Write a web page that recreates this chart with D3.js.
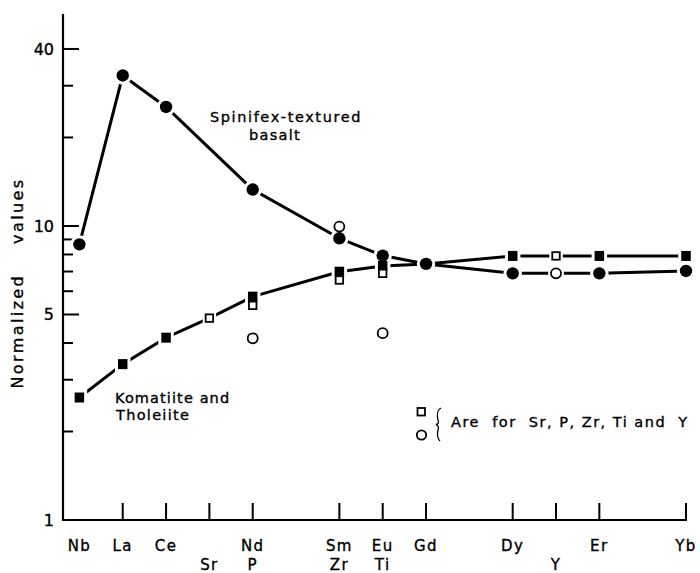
<!DOCTYPE html>
<html>
<head>
<meta charset="utf-8">
<script src="https://cdn.jsdelivr.net/npm/d3@7/dist/d3.min.js"></script>
<style>
  html, body { margin: 0; padding: 0; background: #fff; }
  svg text { font-family: "DejaVu Sans", sans-serif; fill: #000; stroke: #000; stroke-width: 0.35px; white-space: pre; }
</style>
</head>
<body>
<svg id="chart" width="700" height="573"></svg>
<script>
// Element slots along the x axis (unlabelled slots keep the REE spacing)
const slots = ["Nb","La","Ce","Sr","Nd","Pm","Sm","Eu","Gd","Tb","Dy","Y","Er","Tm","Yb"];
const topRowLabels    = ["Nb","La","Ce","","Nd","","Sm","Eu","Gd","","Dy","","Er","","Yb"];
const bottomRowLabels = ["","","","Sr","P","","Zr","Ti","","","","Y","","",""];
const tickSlots = ["La","Ce","Sr","Nd","Sm","Eu","Gd","Dy","Y","Er","Yb"];

// y axis ticks
const majorTicks = [1, 5, 10, 40];
const minorTicks = [2, 3, 4, 6, 7, 8, 9, 20, 30];

// Spinifex-textured basalt (filled circles; open circle at Y)
const spinifexKeys   = ["Nb","La","Ce","Nd","Sm","Eu","Gd","Dy","Y","Er","Yb"];
const spinifexValues = [8.66, 32.5, 25.4, 13.3, 9.08, 7.93, 7.43, 6.9, 6.9, 6.9, 7.03];
const spinifexOpen   = ["Y"];

// Komatiite and tholeiite (filled squares; open squares at Sr and Y)
const komatiiteKeys   = ["Nb","La","Ce","Sr","Nd","Sm","Eu","Gd","Dy","Y","Er","Yb"];
const komatiiteValues = [2.61, 3.39, 4.17, 4.86, 5.75, 6.99, 7.31, 7.43, 7.91, 7.91, 7.91, 7.91];
const komatiiteOpen   = ["Sr","Y"];
const komatiiteNoMark = ["Gd"];

// Extra values for P, Zr, Ti plotted in the Nd, Sm, Eu slots
const extraSlots         = ["Nd","Sm","Eu"];
const extraSquareValues  = [5.37, 6.55, 6.9];
const extraCircleValues  = [4.15, 9.95, 4.32];

const svg = d3.select("#chart");

const x = d3.scalePoint().domain(slots).range([79.4, 686]);
const y = d3.scaleLog().domain([1, 52.6]).range([520, 14]);
const axisLeftX = 63;
const axisBottomY = y(1);

// Axes
svg.append("line").attr("x1", axisLeftX).attr("x2", axisLeftX)
  .attr("y1", y(52.6)).attr("y2", axisBottomY)
  .attr("stroke", "#000").attr("stroke-width", 2.2);
svg.append("line").attr("x1", axisLeftX - 1).attr("x2", x("Yb") + 1)
  .attr("y1", axisBottomY).attr("y2", axisBottomY)
  .attr("stroke", "#000").attr("stroke-width", 2.2);

// y ticks (pointing inward)
svg.selectAll(".ymaj").data(majorTicks.filter(d => d > 1)).enter().append("line")
  .attr("x1", axisLeftX).attr("x2", axisLeftX + 16)
  .attr("y1", d => y(d)).attr("y2", d => y(d))
  .attr("stroke", "#000").attr("stroke-width", 2);
svg.selectAll(".ymin").data(minorTicks).enter().append("line")
  .attr("x1", axisLeftX).attr("x2", axisLeftX + 10)
  .attr("y1", d => y(d)).attr("y2", d => y(d))
  .attr("stroke", "#000").attr("stroke-width", 2);
svg.selectAll(".ylab").data(majorTicks).enter().append("text")
  .attr("x", 54).attr("y", d => y(d))
  .attr("dy", "0.36em").attr("text-anchor", "end")
  .attr("font-size", 16)
  .text(d => d);

// x ticks (pointing up)
svg.selectAll(".xt").data(tickSlots).enter().append("line")
  .attr("x1", d => x(d)).attr("x2", d => x(d))
  .attr("y1", axisBottomY).attr("y2", axisBottomY - 17)
  .attr("stroke", "#000").attr("stroke-width", 2);
svg.selectAll(".xl1").data(slots).enter().append("text")
  .attr("x", d => x(d)).attr("y", 551)
  .attr("text-anchor", "middle").attr("font-size", 15)
  .attr("letter-spacing", 1.4)
  .text((d, i) => topRowLabels[i]);
svg.selectAll(".xl2").data(slots).enter().append("text")
  .attr("x", d => x(d)).attr("y", 570)
  .attr("text-anchor", "middle").attr("font-size", 15)
  .attr("letter-spacing", 1.4)
  .text((d, i) => bottomRowLabels[i]);

// y axis title
svg.append("text")
  .attr("transform", "translate(23,283) rotate(-90)")
  .attr("text-anchor", "middle").attr("font-size", 16)
  .attr("letter-spacing", 2.4)
  .text("Normalized    values");

// Lines
const line = d3.line().x(d => x(d.k)).y(d => y(d.v));
const spinifex = spinifexKeys.map((k, i) => ({k, v: spinifexValues[i]}));
const komatiite = komatiiteKeys.map((k, i) => ({k, v: komatiiteValues[i]}));

[spinifex, komatiite].forEach(s => {
  svg.append("path").datum(s).attr("d", line)
    .attr("fill", "none").attr("stroke", "#000")
    .attr("stroke-width", 3).attr("stroke-linejoin", "round");
});

// Marker list
const markers = [];
spinifex.forEach(d => markers.push({k: d.k, v: d.v, shape: "circle", open: spinifexOpen.includes(d.k)}));
komatiite.forEach(d => {
  if (!komatiiteNoMark.includes(d.k))
    markers.push({k: d.k, v: d.v, shape: "square", open: komatiiteOpen.includes(d.k)});
});
extraSlots.forEach((k, i) => {
  markers.push({k, v: extraSquareValues[i], shape: "square", open: true});
  markers.push({k, v: extraCircleValues[i], shape: "circle", open: true});
});

function drawMarker(g, d, halo) {
  const cx = x(d.k), cy = y(d.v);
  const pad = halo ? 3 : 0;
  if (d.shape === "circle") {
    const r = d.open ? 5 : 6.2;
    g.append("circle").attr("cx", cx).attr("cy", cy).attr("r", r + pad)
      .attr("fill", halo ? "#fff" : (d.open ? "#fff" : "#000"))
      .attr("stroke", halo ? "none" : "#000")
      .attr("stroke-width", d.open ? 1.8 : 0);
  } else {
    const w = d.open ? 7.5 : 9.5, h = d.open ? 7.5 : 10;
    g.append("rect").attr("x", cx - w / 2 - pad).attr("y", cy - h / 2 - pad)
      .attr("width", w + 2 * pad).attr("height", h + 2 * pad)
      .attr("fill", halo ? "#fff" : (d.open ? "#fff" : "#000"))
      .attr("stroke", halo ? "none" : "#000")
      .attr("stroke-width", d.open ? 1.8 : 0);
  }
}
const haloG = svg.append("g");
const markG = svg.append("g");
markers.forEach(d => drawMarker(haloG, d, true));
markers.forEach(d => drawMarker(markG, d, false));

// Series labels
svg.append("text").attr("x", 210).attr("y", 122).attr("font-size", 14.5)
  .attr("letter-spacing", 1.6).text("Spinifex-textured");
svg.append("text").attr("x", 249).attr("y", 140).attr("font-size", 14.5)
  .attr("letter-spacing", 1.3).text("basalt");
svg.append("text").attr("x", 115).attr("y", 403).attr("font-size", 14.5)
  .attr("letter-spacing", 1.1).text("Komatiite and");
svg.append("text").attr("x", 116).attr("y", 420).attr("font-size", 14.5)
  .attr("letter-spacing", 1.3).text("Tholeiite");

// Legend note
svg.append("rect").attr("x", 417.5).attr("y", 408).attr("width", 7.5).attr("height", 7.5)
  .attr("fill", "#fff").attr("stroke", "#000").attr("stroke-width", 1.8);
svg.append("circle").attr("cx", 421.5).attr("cy", 435).attr("r", 4.7)
  .attr("fill", "#fff").attr("stroke", "#000").attr("stroke-width", 1.8);
svg.append("path")
  .attr("d", "M441,408 C437,410 437,416 438,420 C439,423 438,424 436,424.5 C438,425 439,427 438,430 C437,434 437,438 440,441")
  .attr("fill", "none").attr("stroke", "#000").attr("stroke-width", 1.3);
svg.append("text").attr("x", 451).attr("y", 427).attr("font-size", 14.5)
  .attr("letter-spacing", 1.5).text("Are  for  Sr, P, Zr, Ti and  Y");
</script>
</body>
</html>
